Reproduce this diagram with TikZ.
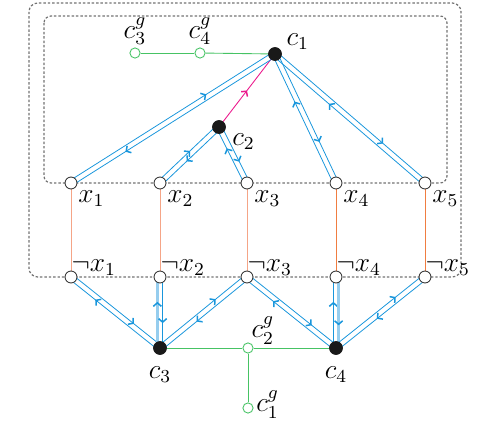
\documentclass[tikz,border=0pt]{standalone}
\usepackage{amssymb}
\usetikzlibrary{calc,arrows.meta,decorations.markings}
\pgfdeclarelayer{edgelayer}
\pgfdeclarelayer{nodelayer}
\pgfsetlayers{edgelayer,nodelayer,main}
\definecolor{laneblue}{RGB}{25,150,220}
\definecolor{paleblue}{RGB}{150,205,238}
\definecolor{pinkish}{RGB}{235,25,140}
\definecolor{gadgetgreen}{RGB}{70,195,100}
\definecolor{salmon}{RGB}{245,165,135}
\definecolor{tangerine}{RGB}{240,125,65}
\tikzstyle{lit}=[circle, fill=white, draw=black!80, line width=0.5pt, inner sep=0pt, minimum size=6.8pt]
\tikzstyle{clause}=[circle, fill=black!90, draw=black!90, inner sep=0pt, minimum size=7.4pt]
\tikzstyle{gadget}=[circle, fill=white, draw=gadgetgreen, line width=0.5pt, inner sep=0pt, minimum size=5.8pt]
\tikzstyle{lane}=[draw=laneblue, line width=0.45pt]
\tikzstyle{thicklane}=[draw=paleblue, line width=1.4pt]
\tikzstyle{greenedge}=[draw=gadgetgreen, line width=0.5pt]
\tikzstyle{pinkedge}=[draw=pinkish, line width=0.5pt]
\tikzstyle{region}=[draw=black!55, line width=0.7pt, dash pattern=on 1.4pt off 1.1pt]
\tikzset{mid arrow/.style={postaction={decorate}, decoration={markings, mark=at position #1 with {\arrow{Straight Barb[length=2pt, width=4.6pt, line width=0.85pt, color=laneblue]}}}}}
% one lane of a two-way edge, on the left of #1 -> #2
\newcommand{\lane}[4]{\draw [style=lane, #4, mid arrow=#3] ($(#1)!1.5pt!90:(#2)$) to ($(#2)!1.5pt!-90:(#1)$);}

\begin{document}
\begin{tikzpicture}[x=0.02cm, y=-0.02cm, every label/.style={font=\large, scale=1.3, inner sep=1pt}]
	\useasboundingbox (0,0) rectangle (498,423);
	\begin{pgfonlayer}{nodelayer}
		\node [style=clause, label={[label distance=1pt]12:$c_1$}] (c1) at (275, 54) {};
		\node [style=clause, label={[label distance=2pt]-22:$c_2$}] (c2) at (219, 127) {};
		\node [style=gadget, label={[label distance=0pt]above:$c_3^g$}] (g3) at (135, 53) {};
		\node [style=gadget, label={[label distance=0pt]above:$c_4^g$}] (g4) at (200, 53) {};
		\node [style=lit, label={[label distance=0pt]-45:$x_1$}] (x1) at (71, 183) {};
		\node [style=lit, label={[label distance=0pt]-45:$x_2$}] (x2) at (160, 183) {};
		\node [style=lit, label={[label distance=0pt]-45:$x_3$}] (x3) at (247, 183) {};
		\node [style=lit, label={[label distance=0pt]-45:$x_4$}] (x4) at (336, 183) {};
		\node [style=lit, label={[label distance=0pt]-45:$x_5$}] (x5) at (425, 183) {};
		\node [style=lit, label={[label distance=-4pt]38:$\neg x_1$}] (n1) at (71, 277) {};
		\node [style=lit, label={[label distance=-4pt]38:$\neg x_2$}] (n2) at (160, 277) {};
		\node [style=lit, label={[label distance=-4pt]38:$\neg x_3$}] (n3) at (247, 277) {};
		\node [style=lit, label={[label distance=-4pt]38:$\neg x_4$}] (n4) at (336, 277) {};
		\node [style=lit, label={[label distance=-4pt]38:$\neg x_5$}] (n5) at (425, 277) {};
		\node [style=clause, label={[label distance=4pt]below:$c_3$}] (c3) at (160, 348) {};
		\node [style=clause, label={[label distance=4pt]below:$c_4$}] (c4) at (336, 348) {};
		\node [style=gadget, label={[label distance=-2pt]35:$c_2^g$}] (g2) at (248, 348) {};
		\node [style=gadget, label={[label distance=0pt, yshift=1.5pt]right:$c_1^g$}] (g1) at (248, 408) {};
	\end{pgfonlayer}
	\begin{pgfonlayer}{edgelayer}
		\draw [style=region, rounded corners=5pt] (29, 3) rectangle (461, 277);
		\draw [style=region, rounded corners=4pt] (44, 16) rectangle (447, 183);
		\draw [style=greenedge] (g3) to (g4);
		\draw [style=greenedge] (g4) to (c1);
		\draw [style=greenedge] (c3) to (g2);
		\draw [style=greenedge] (g2) to (c4);
		\draw [style=greenedge] (g2) to (g1);
		\draw [style=pinkedge, postaction={decorate}, decoration={markings, mark=at position 0.5 with {\arrow{Straight Barb[length=2pt, width=4.6pt, line width=0.85pt]}}}] (c2) to (c1);
		\draw [draw=salmon, line width=0.5pt] (x1) to (n1);
		\draw [draw=salmon, line width=0.5pt] (x2) to (n2);
		\draw [draw=salmon, line width=0.5pt] (x3) to (n3);
		\draw [draw=tangerine, line width=0.5pt] (x4) to (n4);
		\draw [draw=tangerine, line width=0.5pt] (x5) to (n5);
		\lane{x1}{c1}{0.67}{}
		\lane{c1}{x1}{0.74}{}
		\lane{x2}{c2}{0.54}{}
		\lane{c2}{x2}{0.58}{}
		\lane{x3}{c2}{0.64}{}
		\lane{c2}{x3}{0.64}{}
		\lane{x4}{c1}{0.64}{}
		\lane{c1}{x4}{0.69}{}
		\lane{x5}{c1}{0.63}{}
		\lane{c1}{x5}{0.71}{}
		\lane{n1}{c3}{0.69}{}
		\lane{c3}{n1}{0.71}{}
		\lane{c3}{n2}{0.65}{style=thicklane}
		\lane{n2}{c3}{0.65}{}
		\lane{n3}{c3}{0.60}{}
		\lane{c3}{n3}{0.66}{}
		\lane{n3}{c4}{0.71}{}
		\lane{c4}{n3}{0.69}{}
		\lane{c4}{n4}{0.65}{}
		\lane{n4}{c4}{0.68}{style=thicklane}
		\lane{n5}{c4}{0.56}{}
		\lane{c4}{n5}{0.69}{}
	\end{pgfonlayer}
\end{tikzpicture}
\end{document}
